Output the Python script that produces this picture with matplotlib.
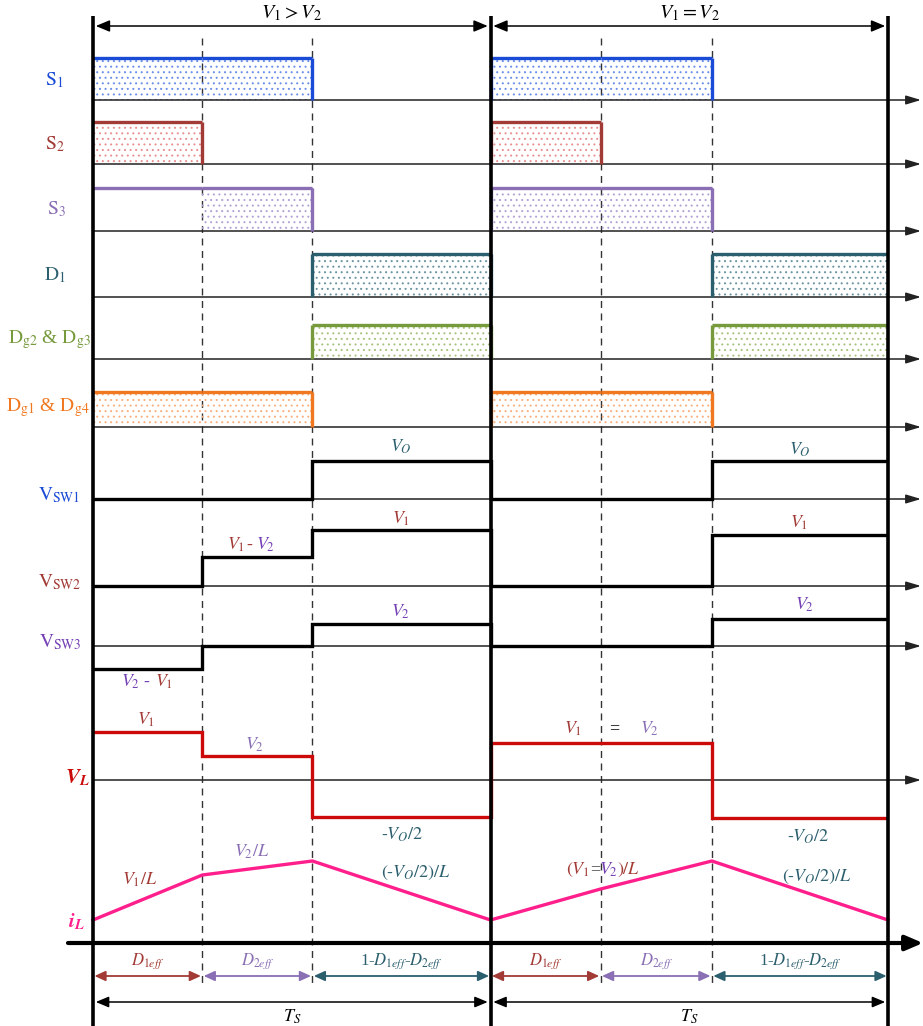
import numpy as np
import matplotlib
matplotlib.use('Agg')
import matplotlib.pyplot as plt

plt.rcParams['font.family'] = ['Liberation Serif', 'DejaVu Serif']
plt.rcParams['mathtext.fontset'] = 'stix'
plt.rcParams['hatch.linewidth'] = 0.7

# ---------------- data ----------------
PERIOD_TITLES = [r'$V_1 > V_2$', r'$V_1 = V_2$']
T_EDGES = [0.0, 0.275, 0.552, 1.0, 1.277, 1.557, 2.0]      # switching instants (units of Ts)
S1_STATE = [1, 1, 0, 1, 1, 0]
S2_STATE = [1, 0, 0, 1, 0, 0]
S3_STATE = [1, 1, 0, 1, 1, 0]
S3_FILL = [0, 1, 0, 1, 1, 0]
D1_STATE = [0, 0, 1, 0, 0, 1]
DG23_STATE = [0, 0, 1, 0, 0, 1]
DG14_STATE = [1, 1, 0, 1, 1, 0]
VSW1 = [0, 0, 38, 0, 0, 38]
VSW2 = [0, 29, 56, 0, 0, 51]
VSW3 = [-23, 0, 22, 0, 0, 27]
VL = [48, 24, -37, 37, 37, -38]
IL = [23, 68, 82, 23, 54, 82, 23]
DUTY_LABELS = [r'$D_{1eff}$', r'$D_{2eff}$', r'1-$D_{1eff}$-$D_{2eff}$']
PERIOD_LABEL = r'$T_S$'

# ---------------- colours ----------------
BLUE = '#1a4bd6'
BROWN = '#a23b36'
LPURPLE = '#8a6fb5'
PURPLE = '#7440b4'
TEAL = '#2c5f6e'
OLIVE = '#769a3c'
ORANGE = '#f07820'
RED = '#cc0a0a'
MAGENTA = '#ff1f8c'

# ---------------- layout helpers ----------------
W, H = 923, 1026
X0, PX_T = 93.0, 397.5


def tx(px):
    return (px - X0) / PX_T


fig = plt.figure(figsize=(W / 100, H / 100), dpi=100)
ax = fig.add_axes([0, 0, 1, 1])
ax.set_xlim(tx(0), tx(W))
ax.set_ylim(H, 0)
ax.axis('off')

T_END = tx(921)


def axis_arrow(y, x_start=0.0, lw=1.1, color='#222222', ms=15, hl=0.6, hw=0.18):
    ax.annotate('', xy=(T_END, y), xytext=(x_start, y),
                arrowprops=dict(arrowstyle=f'-|>,head_length={hl},head_width={hw}',
                                color=color, lw=lw, shrinkA=0, shrinkB=0,
                                mutation_scale=ms), zorder=3)


def logic(states, fill, base, h, lc, dc):
    st = np.array(states, float)
    ytop = base - h * st
    for i, s in enumerate(states):
        if s:
            ax.hlines(ytop[i], T_EDGES[i], T_EDGES[i + 1], color=lc, lw=2.4, zorder=4)
    for k in range(1, len(states)):
        if states[k] != states[k - 1]:
            ax.vlines(T_EDGES[k], base - h, base, color=lc, lw=2.4, zorder=4)
    fy = base - h * np.array(fill, float)
    fy = np.append(fy, fy[-1])
    ax.fill_between(T_EDGES, fy, base, step='post', facecolor='none',
                    edgecolor=dc, hatch='...', lw=0, zorder=2)
    axis_arrow(base)


# logic rows: label, states, fill, base, height, line colour, dot colour, label colour, label y, label x
logic_rows = [
    (r'$\mathrm{S}_{1}$', S1_STATE, S1_STATE, 100, 42, BLUE, '#6a8fe8', BLUE, 80, 54),
    (r'$\mathrm{S}_{2}$', S2_STATE, S2_STATE, 164, 42, BROWN, '#e89090', BROWN, 144, 55),
    (r'$\mathrm{S}_{3}$', S3_STATE, S3_FILL, 231, 43, LPURPLE, '#b3a2d6', LPURPLE, 209, 56),
    (r'$\mathrm{D}_{1}$', D1_STATE, D1_STATE, 297, 43, TEAL, '#6b95a2', TEAL, 275, 55),
    (r'$\mathrm{D}_{\mathrm{g2}}$ & $\mathrm{D}_{\mathrm{g3}}$', DG23_STATE, DG23_STATE, 359, 34,
     OLIVE, '#a8c27e', OLIVE, 340, 49),
    (r'$\mathrm{D}_{\mathrm{g1}}$ & $\mathrm{D}_{\mathrm{g4}}$', DG14_STATE, DG14_STATE, 427, 35,
     ORANGE, '#f7b07e', ORANGE, 408, 48),
]
for lab, st, fl, base, h, lc, dc, tc, ly, lx in logic_rows:
    logic(st, fl, base, h, lc, dc)
    ax.text(tx(lx), ly, lab, color=tc, fontsize=14, ha='center', va='center')

# analog rows
analog_rows = [
    (r'$\mathrm{V}_{\mathrm{SW1}}$', VSW1, 499, 'black', BLUE, 59),
    (r'$\mathrm{V}_{\mathrm{SW2}}$', VSW2, 586, 'black', BROWN, 60),
    (r'$\mathrm{V}_{\mathrm{SW3}}$', VSW3, 646, 'black', PURPLE, 60),
]
for lab, vals, base, lc, tc, lx in analog_rows:
    axis_arrow(base)
    ax.stairs(base - np.array(vals, float), T_EDGES, baseline=None, color=lc, lw=2.4, zorder=4)
    ax.text(tx(lx), base - 4, lab, color=tc, fontsize=14, ha='center', va='center')

VL_BASE = 780
axis_arrow(VL_BASE)
ax.stairs(VL_BASE - np.array(VL, float), T_EDGES, baseline=None, color=RED, lw=2.4, zorder=4)
ax.text(tx(77), 778, r'$\boldsymbol{V}_{\boldsymbol{L}}$', color=RED, fontsize=15,
        ha='center', va='center')

IL_BASE = 943
ax.annotate('', xy=(tx(923), IL_BASE), xytext=(tx(68), IL_BASE),
            arrowprops=dict(arrowstyle='-|>,head_length=0.7,head_width=0.3',
                            color='black', lw=3, shrinkA=0, shrinkB=0,
                            mutation_scale=15), zorder=3)
ax.plot(T_EDGES, IL_BASE - np.array(IL, float), color=MAGENTA, lw=2.4, zorder=4)
ax.text(tx(76), 922, r'$\boldsymbol{i}_{\boldsymbol{L}}$', color=MAGENTA, fontsize=15,
        ha='center', va='center')

# period boundaries and dashed interval lines
for k, t in enumerate(T_EDGES):
    if k % 3 == 0:
        ax.vlines(t, 16, H, color='black', lw=2.6, zorder=6)
    else:
        ax.vlines(t, 38, 983, color='#333333', lw=1.0, linestyles=(0, (5, 4)), zorder=1)

# top period arrows and titles
for p in range(2):
    t0, t1 = T_EDGES[3 * p], T_EDGES[3 * p + 3]
    ax.annotate('', xy=(t1, 26), xytext=(t0, 26),
                arrowprops=dict(arrowstyle='<|-|>,head_length=0.6,head_width=0.25',
                                color='black', lw=1.1, shrinkA=2, shrinkB=2,
                                mutation_scale=14), zorder=5)
    ax.text((t0 + t1) / 2, 13, PERIOD_TITLES[p], fontsize=14.5, ha='center', va='center')

# bottom duty arrows and Ts arrows
duty_colors = [BROWN, LPURPLE, TEAL]
for p in range(2):
    for j in range(3):
        a, b = T_EDGES[3 * p + j], T_EDGES[3 * p + j + 1]
        ax.annotate('', xy=(b, 976), xytext=(a, 976),
                    arrowprops=dict(arrowstyle='<|-|>,head_length=0.55,head_width=0.25',
                                    color=duty_colors[j], lw=1.3, shrinkA=1, shrinkB=1,
                                    mutation_scale=12), zorder=5)
        ax.text((a + b) / 2, 961, DUTY_LABELS[j], color=duty_colors[j], fontsize=12,
                ha='center', va='center')
    t0, t1 = T_EDGES[3 * p], T_EDGES[3 * p + 3]
    ax.annotate('', xy=(t1, 1002), xytext=(t0, 1002),
                arrowprops=dict(arrowstyle='<|-|>,head_length=0.6,head_width=0.25',
                                color='black', lw=1.1, shrinkA=2, shrinkB=2,
                                mutation_scale=13), zorder=5)
    ax.text((t0 + t1) / 2, 1017, PERIOD_LABEL, fontsize=13, ha='center', va='center')

# level annotations
fs = 13
VO_LAB = r'$V_O$'
for px_, py_ in [(401, 447), (800, 450)]:
    ax.text(tx(px_), py_, VO_LAB, color=TEAL, fontsize=fs, ha='center', va='center')
for px_, py_ in [(401, 519), (799, 523)]:
    ax.text(tx(px_), py_, r'$V_1$', color=BROWN, fontsize=fs, ha='center', va='center')
for px_, py_ in [(401, 612), (805, 605)]:
    ax.text(tx(px_), py_, r'$V_2$', color=PURPLE, fontsize=fs, ha='center', va='center')
# V1 - V2
ax.text(tx(236), 545, r'$V_1$', color=BROWN, fontsize=fs, ha='center', va='center')
ax.text(tx(249), 545, '-', color=BROWN, fontsize=fs, ha='center', va='center')
ax.text(tx(266), 545, r'$V_2$', color=PURPLE, fontsize=fs, ha='center', va='center')
# V2 - V1
ax.text(tx(131), 682, r'$V_2$', color=PURPLE, fontsize=fs, ha='center', va='center')
ax.text(tx(146), 682, '-', color=PURPLE, fontsize=fs, ha='center', va='center')
ax.text(tx(164), 682, r'$V_1$', color=BROWN, fontsize=fs, ha='center', va='center')
# VL labels
ax.text(tx(146), 720, r'$V_1$', color=BROWN, fontsize=fs, ha='center', va='center')
ax.text(tx(255), 745, r'$V_2$', color=LPURPLE, fontsize=fs, ha='center', va='center')
ax.text(tx(402), 835, r'$\text{-}V_O/2$', color=TEAL, fontsize=fs, ha='center', va='center')
ax.text(tx(573), 729, r'$V_1$', color=BROWN, fontsize=fs, ha='center', va='center')
ax.text(tx(614), 729, '=', color='black', fontsize=fs, ha='center', va='center')
ax.text(tx(650), 729, r'$V_2$', color=LPURPLE, fontsize=fs, ha='center', va='center')
ax.text(tx(808), 837, r'$\text{-}V_O/2$', color=TEAL, fontsize=fs, ha='center', va='center')
# iL slope labels
ax.text(tx(140), 880, r'$V_1/L$', color=BROWN, fontsize=fs, ha='center', va='center')
ax.text(tx(252), 852, r'$V_2/L$', color=LPURPLE, fontsize=fs, ha='center', va='center')
ax.text(tx(416), 873, r'$(\text{-}V_O/2)/L$', color=TEAL, fontsize=fs, ha='center', va='center')
ax.text(tx(817), 877, r'$(\text{-}V_O/2)/L$', color=TEAL, fontsize=fs, ha='center', va='center')
ax.text(tx(578), 870, r'$(V_1$', color=BROWN, fontsize=fs, ha='center', va='center')
ax.text(tx(595), 870, '=', color='#444444', fontsize=fs, ha='center', va='center')
ax.text(tx(609), 870, r'$V_2$', color=PURPLE, fontsize=fs, ha='center', va='center')
ax.text(tx(629), 870, r'$)/L$', color=BROWN, fontsize=fs, ha='center', va='center')

fig.savefig('out.png', dpi=100)
